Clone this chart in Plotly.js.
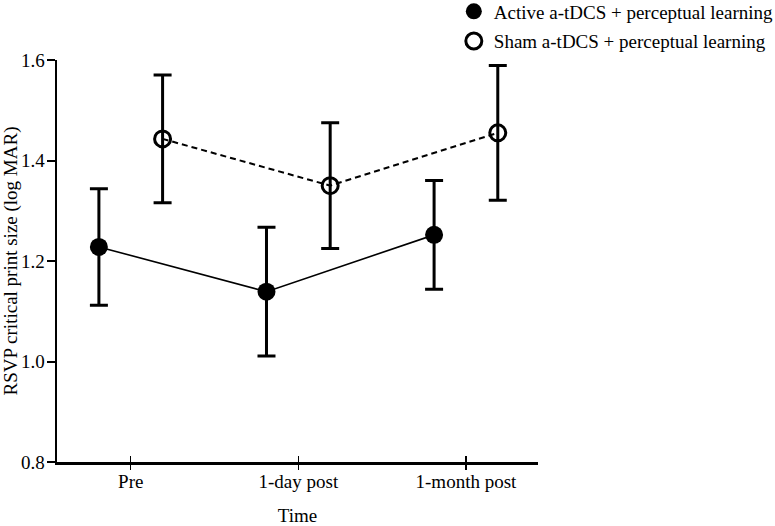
<!DOCTYPE html>
<html>
<head>
<meta charset="utf-8">
<script src="https://cdn.plot.ly/plotly-3.0.1.min.js"></script>
<style>html,body{margin:0;padding:0;background:#fff}#chart{width:775px;height:526px}</style>
</head>
<body>
<div id="chart"></div>
<script>
const categories = ["Pre", "1-day post", "1-month post"];
const activeName = "Active a-tDCS + perceptual learning";
const shamName = "Sham a-tDCS + perceptual learning";
const activeMean = [1.228, 1.139, 1.252];
const activeErr = [0.116, 0.128, 0.108];
const shamMean = [1.443, 1.350, 1.455];
const shamErr = [0.127, 0.125, 0.134];
const yTicks = [0.8, 1.0, 1.2, 1.4, 1.6];

const OFFSET = 0.19;
const idx = categories.map((c, i) => i);
const font = {family: "Liberation Serif, Times New Roman, serif", size: 19, color: "#000"};

const activeMarker = {symbol: "circle", size: 18, color: "#000", line: {color: "#000", width: 0}};
const shamMarker = {symbol: "circle-open", size: 16, color: "#000", line: {color: "#000", width: 3}};

const traces = [
  {
    x: idx.map(i => i - OFFSET), y: activeMean, name: activeName, type: "scatter", mode: "lines+markers",
    line: {color: "#000", width: 1.6, dash: "solid"},
    marker: activeMarker,
    error_y: {type: "data", array: activeErr, visible: true, color: "#000", thickness: 3, width: 9},
    showlegend: false
  },
  {
    x: idx.map(i => i + OFFSET), y: shamMean, name: shamName, type: "scatter", mode: "lines+markers",
    line: {color: "#000", width: 2, dash: "6px,4px"},
    marker: shamMarker,
    error_y: {type: "data", array: shamErr, visible: true, color: "#000", thickness: 3, width: 9},
    showlegend: false
  },
  {x: [null], y: [null], name: activeName, type: "scatter", mode: "markers", marker: activeMarker, legendgroup: "a"},
  {x: [null], y: [null], name: shamName, type: "scatter", mode: "markers", marker: shamMarker, legendgroup: "b"},
  {
    x: idx, y: idx.map(() => null), xaxis: "x2", type: "scatter", mode: "markers",
    showlegend: false, hoverinfo: "skip"
  }
];

const layout = {
  width: 775, height: 526,
  margin: {l: 57, r: 237, t: 60, b: 64, autoexpand: false},
  paper_bgcolor: "#fff", plot_bgcolor: "#fff",
  font: font,
  showlegend: true,
  legend: {x: 0.825, xanchor: "left", y: 1.168, yanchor: "top", font: font,
           traceorder: "grouped", tracegroupgap: 2, itemwidth: 30, bgcolor: "rgba(0,0,0,0)"},
  xaxis: {
    range: [-0.44, 2.43], tickvals: idx, ticktext: categories,
    showline: true, linecolor: "#000", linewidth: 2.5, showgrid: false, zeroline: false,
    ticks: "outside", ticklen: 5, tickwidth: 1.5, tickcolor: "#000",
    tickfont: font, ticklabelstandoff: -4,
    title: {text: "Time", font: font, standoff: 18}
  },
  xaxis2: {
    overlaying: "x", range: [-0.44, 2.43], tickvals: idx, showticklabels: false,
    ticks: "inside", ticklen: 6, tickwidth: 1.5, tickcolor: "#000",
    showgrid: false, zeroline: false, showline: false, side: "bottom", anchor: "y"
  },
  yaxis: {
    range: [0.8, 1.6], tickvals: yTicks, ticktext: yTicks.map(v => v.toFixed(1)),
    showline: true, linecolor: "#000", linewidth: 2.5, showgrid: false, zeroline: false,
    ticks: "outside", ticklen: 8, tickwidth: 2, tickcolor: "#000",
    tickfont: font, ticklabelstandoff: -2,
    title: {text: "RSVP critical print size (log MAR)", font: font, standoff: 10}
  }
};

Plotly.newPlot("chart", traces, layout, {displayModeBar: false, staticPlot: true});
</script>
</body>
</html>
